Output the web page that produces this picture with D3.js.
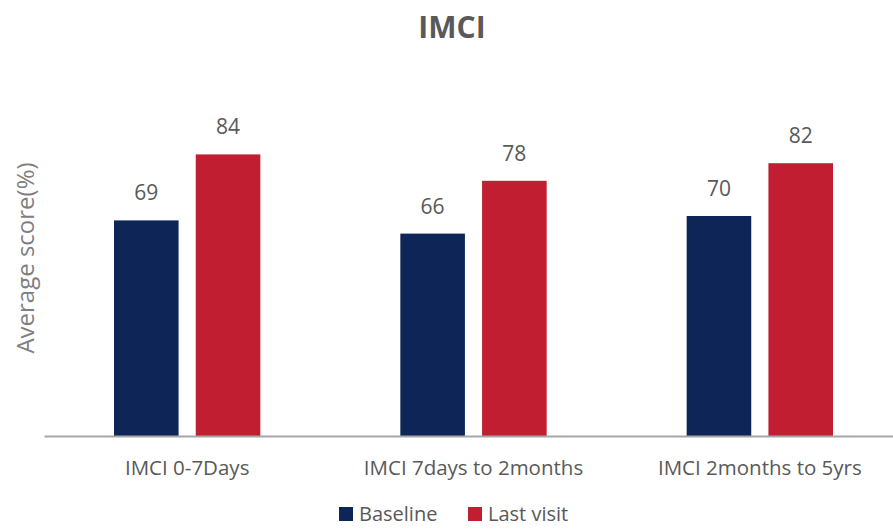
<!DOCTYPE html>
<html>
<head>
<meta charset="utf-8">
<script src="https://cdn.jsdelivr.net/npm/d3@7"></script>
<style>
  body { margin: 0; background: #fff; }
  text { font-family: "Open Sans", sans-serif; }
</style>
</head>
<body>
<div id="chart"></div>
<script>
const categories = ["IMCI 0-7Days", "IMCI 7days to 2months", "IMCI 2months to 5yrs"];
const seriesNames = ["Baseline", "Last visit"];
const baseline = [69, 66, 70];
const lastVisit = [84, 78, 82];
const colors = ["#0e2558", "#c11f31"];

const width = 893, height = 529;
const margin = { top: 84, right: -10, bottom: 93, left: 44 };

const svg = d3.select("#chart")
    .append("svg")
    .attr("width", width)
    .attr("height", height);

const rows = categories.map((c, i) => ({
    cat: c,
    values: [
        { key: seriesNames[0], value: baseline[i] },
        { key: seriesNames[1], value: lastVisit[i] }
    ]
}));

const x0 = d3.scaleBand()
    .domain(categories)
    .range([margin.left, width - margin.right])
    .paddingInner(0)
    .paddingOuter(0);

const x1 = d3.scaleBand()
    .domain(seriesNames)
    .range([70, x0.bandwidth() - 70])
    .paddingInner(0.21);

const y = d3.scaleLinear()
    .domain([20, 100])
    .range([height - margin.bottom, margin.top]);

// title
svg.append("text")
    .attr("x", 452)
    .attr("y", 38)
    .attr("text-anchor", "middle")
    .attr("font-size", "30px")
    .attr("font-weight", "bold")
    .attr("fill", "#595959")
    .text("IMCI");

// y label
svg.append("text")
    .attr("transform", `translate(34, 258) rotate(-90)`)
    .attr("text-anchor", "middle")
    .attr("font-size", "24px")
    .attr("fill", "#7f7f7f")
    .text("Average score(%)");

const groups = svg.selectAll("g.group")
    .data(rows)
    .enter()
    .append("g")
    .attr("class", "group")
    .attr("transform", d => `translate(${x0(d.cat)},0)`);

groups.selectAll("rect")
    .data(d => d.values)
    .enter()
    .append("rect")
    .attr("x", d => x1(d.key))
    .attr("y", d => y(d.value))
    .attr("width", x1.bandwidth())
    .attr("height", d => y(20) - y(d.value))
    .attr("fill", (d, i) => colors[i]);

groups.selectAll("text.val")
    .data(d => d.values)
    .enter()
    .append("text")
    .attr("class", "val")
    .attr("x", d => x1(d.key) + x1.bandwidth() / 2)
    .attr("y", d => y(d.value) - 20)
    .attr("text-anchor", "middle")
    .attr("font-size", "21px")
    .attr("fill", "#595959")
    .text(d => d.value);

// x axis
const xAxis = svg.append("g")
    .attr("transform", `translate(0,${y(20)})`)
    .call(d3.axisBottom(x0).tickSize(0).tickPadding(24));

xAxis.select(".domain")
    .attr("stroke", "#a6a6a6")
    .attr("stroke-width", 2);

xAxis.selectAll("text")
    .attr("font-family", "Open Sans, sans-serif")
    .attr("font-size", "20.5px")
    .attr("fill", "#595959");

// legend
const legend = svg.append("g")
    .attr("transform", "translate(339, 507)");

const legendX = [0, 129];
seriesNames.forEach((name, i) => {
    legend.append("rect")
        .attr("x", legendX[i])
        .attr("y", 0)
        .attr("width", 14)
        .attr("height", 14)
        .attr("fill", colors[i]);
    legend.append("text")
        .attr("x", legendX[i] + 20)
        .attr("y", 14)
        .attr("font-size", "20px")
        .attr("fill", "#595959")
        .text(name);
});
</script>
</body>
</html>
